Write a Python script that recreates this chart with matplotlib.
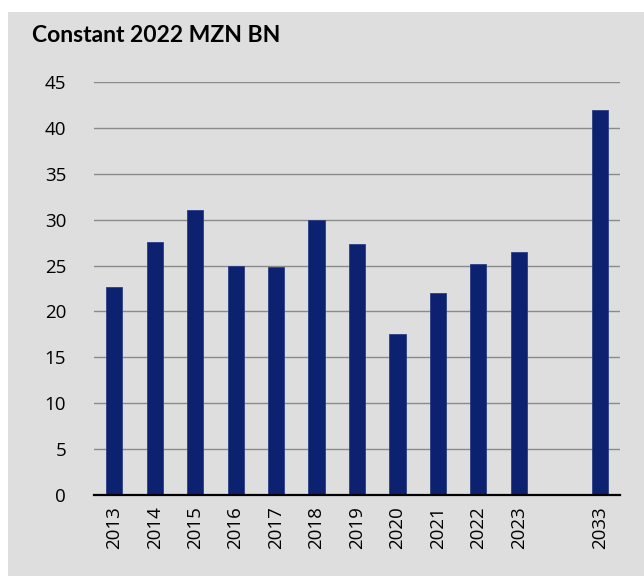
import matplotlib
matplotlib.use("Agg")
import matplotlib.pyplot as plt
from matplotlib.patches import Rectangle

years = ['2013', '2014', '2015', '2016', '2017', '2018', '2019', '2020', '2021', '2022', '2023', '', '2033']
values = [22.7, 27.6, 31.0, 24.9, 24.8, 30.0, 27.3, 17.5, 22.0, 25.2, 26.5, None, 42.0]
yticks = [0, 5, 10, 15, 20, 25, 30, 35, 40, 45]

plt.rcParams['font.family'] = ['Open Sans', 'DejaVu Sans']

fig = plt.figure(figsize=(6.44, 5.76), dpi=100)
fig.patch.set_facecolor('white')
fig.patches.append(Rectangle((8 / 644, 0), 1, (576 - 12) / 576, transform=fig.transFigure,
                             facecolor='#dedede', edgecolor='none', zorder=-10))

ax = fig.add_axes([94 / 644, 81 / 576, 526 / 644, 413 / 576])
ax.set_facecolor('none')

pos = list(range(len(years)))
bx = [p for p, v in zip(pos, values) if v is not None]
bv = [v for v in values if v is not None]
ax.bar(bx, bv, width=0.4, color='#0c2270', edgecolor='#2a3f85', linewidth=0.6, zorder=3)

ax.set_xlim(-0.5, len(years) - 0.5)
ax.set_ylim(0, 45)
ax.set_yticks(yticks)
ax.set_xticks(bx)
ax.set_xticklabels([years[p] for p in bx], rotation=90, fontsize=13.5)
ax.tick_params(axis='y', labelsize=13.5, length=0, pad=20)
ax.tick_params(axis='x', length=0, pad=8)
ax.grid(axis='y', color='#8a8a8a', linewidth=1, zorder=1)
for s in ['top', 'right', 'left']:
    ax.spines[s].set_visible(False)
ax.spines['bottom'].set_color('black')
ax.spines['bottom'].set_linewidth(1.6)
ax.spines['bottom'].set_zorder(4)

fig.text(32 / 644, 1 - 35 / 576, 'Constant 2022 MZN BN', fontsize=16.5, fontweight='bold',
         family=['Lato', 'DejaVu Sans'], va='center', ha='left')

fig.savefig('out.png', dpi=100)
